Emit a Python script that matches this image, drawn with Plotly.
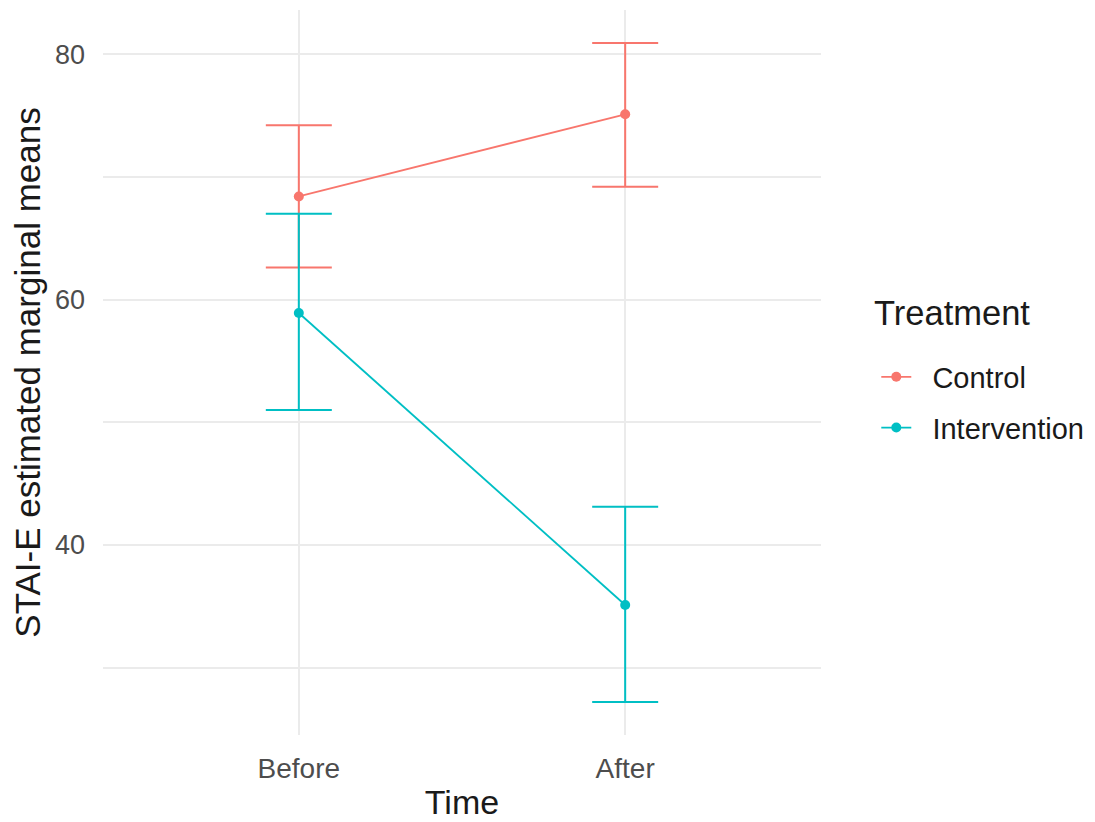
import plotly.graph_objects as go

time_labels = ["Before", "After"]
groups = ["Control", "Intervention"]
control_mean = [68.4, 75.1]
control_lower = [62.6, 69.2]
control_upper = [74.2, 80.9]
interv_mean = [58.9, 35.1]
interv_lower = [51.0, 27.2]
interv_upper = [67.0, 43.1]
colors = ["#F8766D", "#00BFC4"]

FONT = "Arial, Liberation Sans, sans-serif"
NB = "\u00a0"

fig = go.Figure()
for name, m, lo, hi, col in [
    (groups[0], control_mean, control_lower, control_upper, colors[0]),
    (groups[1], interv_mean, interv_lower, interv_upper, colors[1]),
]:
    fig.add_trace(go.Scatter(
        x=time_labels, y=m, name=NB * 2 + name, legendgroup=name,
        mode="lines+markers",
        line=dict(color=col, width=1.8),
        marker=dict(color=col, size=10),
        error_y=dict(type="data", symmetric=False,
                     array=[h - v for h, v in zip(hi, m)],
                     arrayminus=[v - l for v, l in zip(m, lo)],
                     color=col, thickness=2, width=33),
    ))

fig.add_annotation(
    text="Treatment", xref="paper", yref="paper",
    x=1.0717, y=0.5818, xanchor="left", yanchor="middle",
    showarrow=False, font=dict(size=34.5, color="#1a1a1a", family=FONT),
)

fig.update_layout(
    width=1095, height=822,
    margin=dict(l=95, r=282, t=2, b=95, autoexpand=False),
    paper_bgcolor="white", plot_bgcolor="white",
    font=dict(family=FONT, color="#1a1a1a"),
    showlegend=True,
    legend=dict(
        font=dict(size=29, color="#1a1a1a"),
        x=1.077, xanchor="left", y=0.529, yanchor="top",
        xref="paper", yref="paper", tracegroupgap=10,
        bgcolor="rgba(0,0,0,0)",
    ),
    xaxis=dict(
        type="category", range=[-0.6, 1.6],
        showgrid=True, gridcolor="#EBEBEB", gridwidth=1.5,
        zeroline=False, showline=False, ticks="", ticklabelstandoff=14,
        tickfont=dict(size=28, color="#4D4D4D"),
        title=dict(text="Time", font=dict(size=34, color="#1a1a1a"), standoff=7),
    ),
    yaxis=dict(
        range=[24.5, 83.6], tick0=0, dtick=20,
        showgrid=True, gridcolor="#EBEBEB", gridwidth=1.5,
        minor=dict(dtick=10, tick0=0, showgrid=True, gridcolor="#EBEBEB", gridwidth=1.5),
        zeroline=False, showline=False, ticks="", ticklabelstandoff=17,
        tickfont=dict(size=27, color="#4D4D4D"),
        title=dict(text="STAI-E estimated marginal means", font=dict(size=35, color="#1a1a1a"), standoff=6),
    ),
)

fig.write_html("out.html")
